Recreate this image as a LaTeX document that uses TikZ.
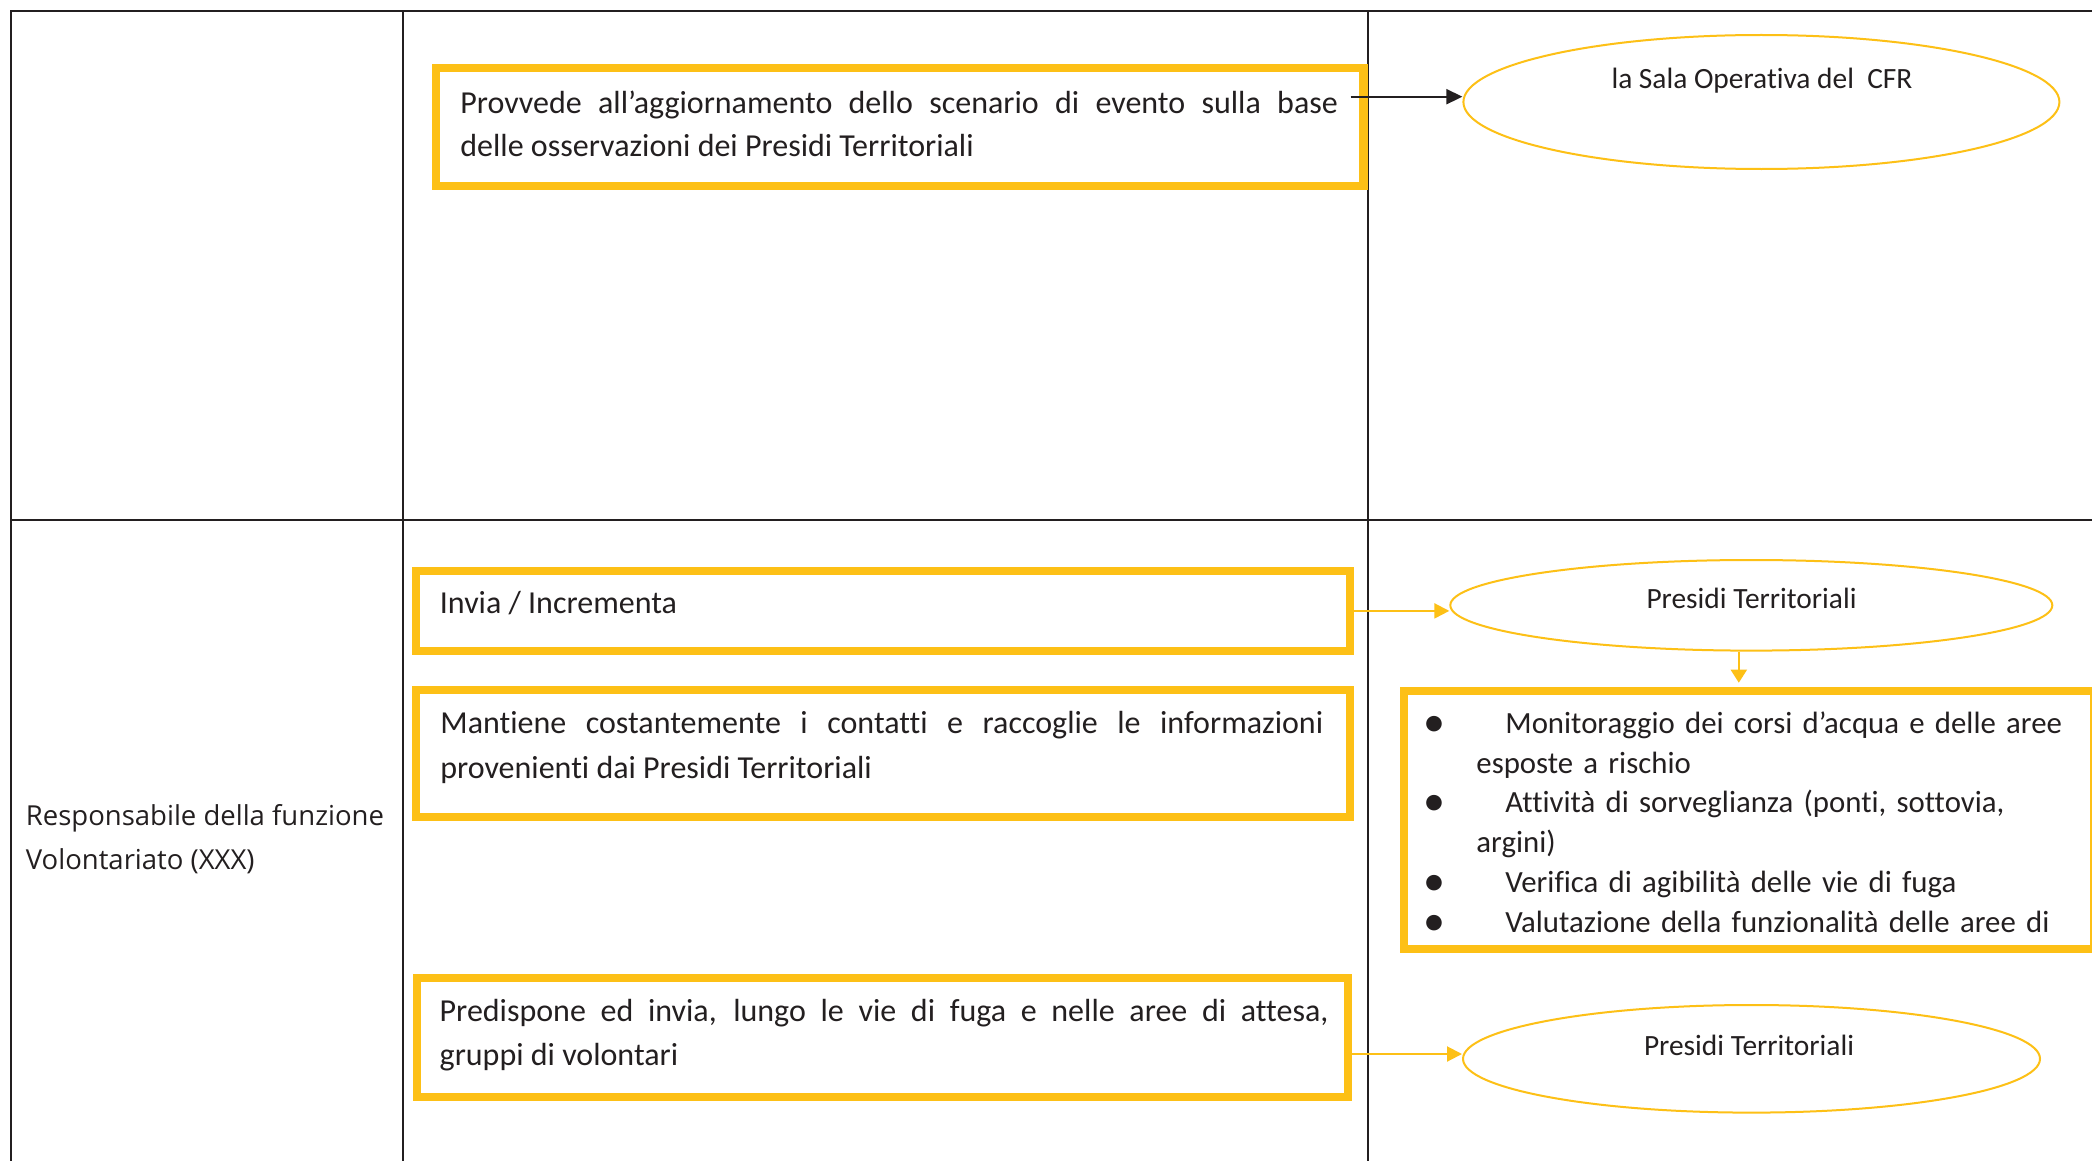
\documentclass[tikz,border=0pt]{standalone}
\usepackage{fontspec}
\setmainfont{Carlito}[Ligatures=NoCommon]
\newfontfamily\leftfont{Open Sans}
\usetikzlibrary{shapes.geometric,arrows.meta}
\definecolor{gold}{RGB}{253,192,22}
\definecolor{ink}{RGB}{35,31,32}
\newcommand{\blt}{\leavevmode\llap{\makebox[0pt]{\raisebox{-1.5pt}{\fontsize{22}{10}\selectfont •}}\hspace{20.85pt}}\hspace{14.5pt}}
\begin{document}
\begin{tikzpicture}[x=0.5pt,y=-0.5pt,
  ybox/.style={draw=gold, line width=4.2pt, rectangle, inner sep=0pt},
  oval/.style={draw=gold, line width=1pt, ellipse, inner sep=0pt},
  rule/.style={draw=ink, line width=1pt},
  txt/.style={inner sep=0pt, anchor=base west, text=ink},
  otxt/.style={inner sep=0pt, anchor=base, text=ink, font=\fontsize{14.7}{18}\selectfont},
  goldarrow/.style={draw=gold, line width=1pt, -{Triangle[length=7.5pt,width=7.5pt]}},
  inkarrow/.style={draw=ink, line width=1pt, -{Triangle[length=8pt,width=7.5pt]}}
]
\clip (0,0) rectangle (2092,1161);
\fill[white] (0,0) rectangle (2092,1161);

% table rules
\draw[rule] (11,1175) -- (11,11) -- (2100,11);
\draw[rule] (403,11) -- (403,1175);
\draw[rule] (1368,11) -- (1368,1175);
\draw[rule] (11,519.5) -- (2100,519.5);

% left column label (base anchor = last line)
\node[txt, font=\leftfont\fontsize{13.75}{21.9}\selectfont, align=left] (lab) at (25.5,869.3)
  {Responsabile della funzione\\Volontariato (XXX)};

% yellow boxes
\node[ybox, minimum width=463.7pt, minimum height=59pt] (b1) at (899.9,126.8) {};
\node[ybox, minimum width=467pt, minimum height=40pt] (b2) at (883,610.9) {};
\node[ybox, minimum width=467pt, minimum height=63.4pt] (b3) at (883,753.4) {};
\node[ybox, minimum width=465.5pt, minimum height=59.5pt] (b5) at (882.5,1037.7) {};
\node[ybox, minimum width=344.9pt, minimum height=129pt] (b4) at (1749.1,819.9) {};

% box texts
\node[txt, text width=438.75pt, align=justify, font=\fontsize{16}{21.7}\selectfont] (t1) at (460,113.3)
  {Provvede all’aggiornamento dello scenario di evento sulla base\linebreak delle osservazioni dei Presidi Territoriali};
\node[txt, font=\fontsize{16}{21.7}\selectfont] (t2) at (439.5,613.3) {Invia / Incrementa};
\node[txt, text width=441.4pt, align=justify, font=\fontsize{16}{22.5}\selectfont] (t3) at (440,733.3)
  {Mantiene costantemente i contatti e raccoglie le informazioni\linebreak provenienti dai Presidi Territoriali};
\node[txt, text width=444.35pt, align=justify, font=\fontsize{16}{21.65}\selectfont] (t5) at (439.3,1021.7)
  {Predispone ed invia, lungo le vie di fuga e nelle aree di attesa,\linebreak gruppi di volontari};
\node[txt, text width=320pt, align=left, font=\fontsize{15.4}{19.9}\selectfont] (t4) at (1476,733.3)
  {\blt Monitoraggio dei corsi d’acqua e delle aree\\
   esposte a rischio\\
   \blt Attività di sorveglianza (ponti, sottovia,\\
   argini)\\
   \blt Verifica di agibilità delle vie di fuga\\
   \blt Valutazione della funzionalità delle aree di};

% ellipses
\node[oval, minimum width=298pt, minimum height=67pt] (e1) at (1761.4,102) {};
\node[oval, minimum width=301pt, minimum height=45.3pt] (e2) at (1751.3,605.3) {};
\node[oval, minimum width=288.5pt, minimum height=53.8pt] (e3) at (1751.5,1058.8) {};
\node[otxt] (l1) at (1762,88.3) {la Sala Operativa del\ \ CFR};
\node[otxt] (l2) at (1751.5,608.3) {Presidi Territoriali};
\node[otxt] (l3) at (1749,1055) {Presidi Territoriali};

% connectors
\coordinate (a1) at (1350.5,96.7);
\draw[inkarrow] (a1) -- (a1 -| e1.west);
\draw[goldarrow] (b2.east) -- (b2.east -| e2.west);
\coordinate (a2) at (1738.8,651);
\draw[goldarrow, -{Triangle[length=6.5pt,width=8pt]}, shorten >=2pt] (a2 |- e2.south) -- (a2 |- b4.north);
\coordinate (a3) at (1348,1054);
\draw[goldarrow] (a3) -- (a3 -| e3.west);
\end{tikzpicture}
\end{document}
